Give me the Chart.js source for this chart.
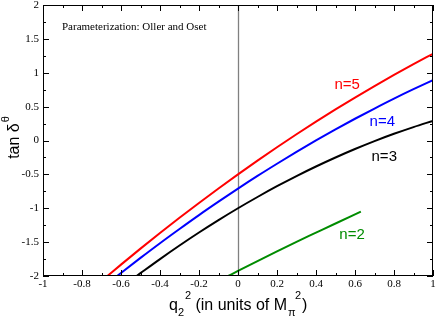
<!DOCTYPE html>
<html>
<head>
<meta charset="utf-8">
<script src="https://cdn.jsdelivr.net/npm/chart.js@4.4.0/dist/chart.umd.min.js"></script>
<style>
  html, body { margin: 0; padding: 0; background: #fff; }
</style>
</head>
<body>
<canvas id="myChart" width="436" height="318"></canvas>
<script>
// curve samples
const xN5 = [-0.67, -0.6, -0.5, -0.4, -0.3, -0.2, -0.1, 0, 0.1, 0.2, 0.3, 0.4, 0.5, 0.6, 0.7, 0.8, 0.9, 1.0];
const yN5 = [-2.0, -1.832, -1.596, -1.366, -1.141, -0.922, -0.708, -0.5, -0.297, -0.1, 0.092, 0.278, 0.459, 0.634, 0.804, 0.968, 1.127, 1.28];

const xN4 = [-0.62, -0.6, -0.5, -0.4, -0.3, -0.2, -0.1, 0, 0.1, 0.2, 0.3, 0.4, 0.5, 0.6, 0.7, 0.8, 0.9, 1.0];
const yN4 = [-2.0, -1.955, -1.733, -1.516, -1.306, -1.101, -0.903, -0.71, -0.523, -0.343, -0.168, 0.001, 0.164, 0.321, 0.472, 0.618, 0.757, 0.89];

const xN3 = [-0.52, -0.5, -0.4, -0.3, -0.2, -0.1, 0, 0.1, 0.2, 0.3, 0.4, 0.5, 0.6, 0.7, 0.8, 0.9, 1.0];
const yN3 = [-2.0, -1.958, -1.75, -1.55, -1.358, -1.175, -1.0, -0.834, -0.675, -0.525, -0.384, -0.251, -0.126, -0.009, 0.099, 0.198, 0.29];

const xN2 = [-0.05, 0, 0.1, 0.2, 0.3, 0.4, 0.5, 0.63];
const yN2 = [-2.0, -1.925, -1.78, -1.635, -1.495, -1.36, -1.225, -1.05];

const xMajor = [-1, -0.8, -0.6, -0.4, -0.2, 0, 0.2, 0.4, 0.6, 0.8, 1];
const xMinor = [-0.9, -0.7, -0.5, -0.3, -0.1, 0.1, 0.3, 0.5, 0.7, 0.9];
const yMajor = [-2, -1.5, -1, -0.5, 0, 0.5, 1, 1.5, 2];
const yMinor = [-1.75, -1.25, -0.75, -0.25, 0.25, 0.75, 1.25, 1.75];

const curveLabels = [
  { text: "n=5", color: "#ff0000", x: 0.56, y: 0.82 },
  { text: "n=4", color: "#0000ff", x: 0.74, y: 0.27 },
  { text: "n=3", color: "#000000", x: 0.75, y: -0.24 },
  { text: "n=2", color: "#008c00", x: 0.585, y: -1.4 },
];

const pts = (xs, ys) => xs.map((x, i) => ({ x: x, y: ys[i] }));

const series = [
  { label: "n=5", data: pts(xN5, yN5), color: "#ff0000" },
  { label: "n=4", data: pts(xN4, yN4), color: "#0000ff" },
  { label: "n=3", data: pts(xN3, yN3), color: "#000000" },
  { label: "n=2", data: pts(xN2, yN2), color: "#008c00" },
];

const fmt = (v) => String(Number(v.toFixed(2)));

const framePlugin = {
  id: "frame",
  beforeDatasetsDraw(chart) {
    const { ctx, chartArea: a, scales } = chart;
    const x0 = Math.round(scales.x.getPixelForValue(0)) + 0.5;
    ctx.save();
    ctx.strokeStyle = "#808080";
    ctx.lineWidth = 1.3;
    ctx.beginPath();
    ctx.moveTo(x0, a.top);
    ctx.lineTo(x0, a.bottom);
    ctx.stroke();
    ctx.restore();
  },
  afterDraw(chart) {
    const { ctx, chartArea: a, scales } = chart;
    const sx = scales.x, sy = scales.y;
    ctx.save();
    ctx.strokeStyle = "#000";
    ctx.lineWidth = 1;
    ctx.strokeRect(a.left + 0.5, a.top + 0.5, a.right - a.left - 1, a.bottom - a.top - 1);

    ctx.beginPath();
    const tx = (v, len) => {
      const p = Math.round(sx.getPixelForValue(v)) + 0.5;
      ctx.moveTo(p, a.bottom); ctx.lineTo(p, a.bottom - len);
      ctx.moveTo(p, a.top); ctx.lineTo(p, a.top + len);
    };
    const ty = (v, len) => {
      const p = Math.round(sy.getPixelForValue(v)) + 0.5;
      ctx.moveTo(a.left, p); ctx.lineTo(a.left + len, p);
      ctx.moveTo(a.right, p); ctx.lineTo(a.right - len, p);
    };
    xMajor.forEach((v) => tx(v, 6));
    xMinor.forEach((v) => tx(v, 3));
    yMajor.forEach((v) => ty(v, 6));
    yMinor.forEach((v) => ty(v, 3));
    ctx.stroke();

    // tick labels from the scales' own ticks
    ctx.fillStyle = "#000";
    ctx.font = "11px 'Liberation Serif'";
    ctx.textBaseline = "middle";
    ctx.textAlign = "right";
    sy.ticks.forEach((t) => {
      ctx.fillText(fmt(t.value), a.left - 4, sy.getPixelForValue(t.value));
    });
    ctx.textAlign = "center";
    ctx.textBaseline = "top";
    sx.ticks.forEach((t) => {
      ctx.fillText(fmt(t.value), sx.getPixelForValue(t.value), a.bottom + 3);
    });

    // note in the corner
    ctx.font = "11px 'Liberation Serif'";
    ctx.textAlign = "left";
    ctx.textBaseline = "middle";
    ctx.fillText("Parameterization: Oller and Oset", 62, 27);

    // curve labels
    ctx.font = "15px 'Liberation Sans'";
    ctx.textAlign = "center";
    curveLabels.forEach((l) => {
      ctx.fillStyle = l.color;
      ctx.fillText(l.text, sx.getPixelForValue(l.x), sy.getPixelForValue(l.y));
    });

    // x axis title: q_2^2 (in units of M_pi^2)
    ctx.fillStyle = "#000";
    ctx.textAlign = "left";
    ctx.textBaseline = "alphabetic";
    const big = "16px 'Liberation Sans'", small = "11px 'Liberation Sans'";
    const base = 310;
    let cx = 169;
    ctx.font = big;
    ctx.fillText("q", cx, base);
    ctx.font = small;
    ctx.fillText("2", cx + 9, base + 6);
    ctx.fillText("2", cx + 16, base - 11);
    ctx.font = big;
    const mid = " (in units of M";
    ctx.fillText(mid, cx + 22, base);
    cx += 22 + ctx.measureText(mid).width;
    ctx.font = small;
    ctx.fillText("\u03c0", cx + 1, base + 6);
    ctx.fillText("2", cx + 8, base - 11);
    ctx.font = big;
    ctx.fillText(")", cx + 15, base);

    // y axis title: tan delta^theta
    ctx.save();
    ctx.translate(19, 138);
    ctx.rotate(-Math.PI / 2);
    ctx.font = big;
    const t1 = "tan \u03b4";
    const w1 = ctx.measureText(t1).width;
    ctx.font = small;
    const w2 = ctx.measureText("\u03b8").width;
    ctx.font = big;
    ctx.fillText(t1, -(w1 + w2) / 2, 0);
    ctx.font = small;
    ctx.fillText("\u03b8", -(w1 + w2) / 2 + w1 + 1, -10);
    ctx.restore();

    ctx.restore();
  },
};

new Chart(document.getElementById("myChart"), {
  type: "scatter",
  data: {
    datasets: series.map((s) => ({
      label: s.label,
      data: s.data,
      showLine: true,
      borderColor: s.color,
      backgroundColor: s.color,
      borderWidth: 2,
      pointRadius: 0,
      cubicInterpolationMode: "monotone",
    })),
  },
  options: {
    responsive: false,
    animation: false,
    layout: { padding: { top: 5, right: 3, left: 0, bottom: 0 } },
    plugins: {
      legend: { display: false },
      tooltip: { enabled: false },
    },
    scales: {
      x: {
        type: "linear",
        min: -1,
        max: 1,
        afterFit: (s) => { s.height = 42; },
        afterBuildTicks: (s) => { s.ticks = xMajor.map((v) => ({ value: v })); },
        grid: { display: false, drawTicks: false },
        border: { display: false },
        ticks: { display: false },
      },
      y: {
        type: "linear",
        min: -2,
        max: 2,
        afterFit: (s) => { s.width = 43; },
        afterBuildTicks: (s) => { s.ticks = yMajor.map((v) => ({ value: v })); },
        grid: { display: false, drawTicks: false },
        border: { display: false },
        ticks: { display: false },
      },
    },
  },
  plugins: [framePlugin],
});
</script>
</body>
</html>
